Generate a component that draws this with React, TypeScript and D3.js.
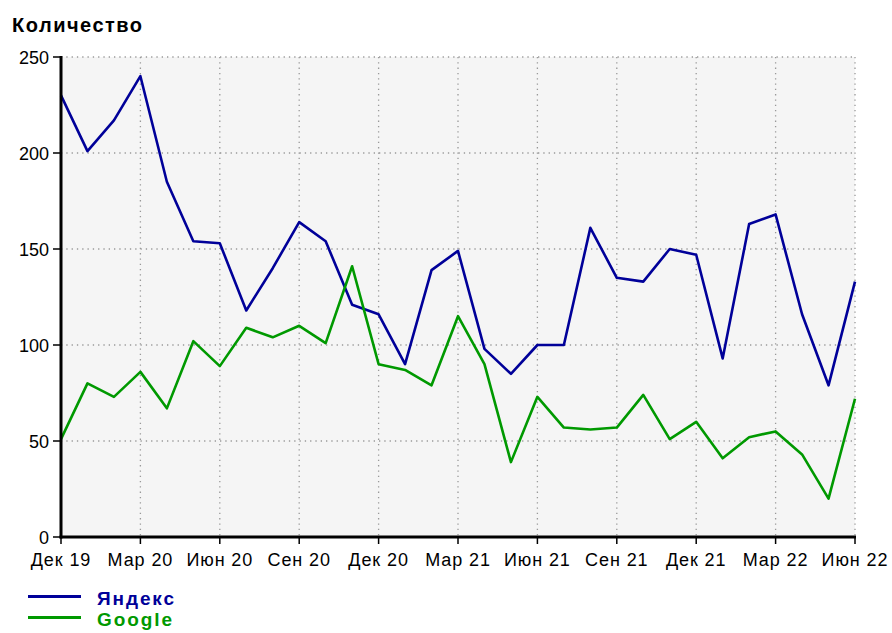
import React from "react";
import * as d3 from "d3";

const months = [
  "Дек 19","Янв 20","Фев 20","Мар 20","Апр 20","Май 20","Июн 20","Июл 20","Авг 20","Сен 20","Окт 20","Ноя 20",
  "Дек 20","Янв 21","Фев 21","Мар 21","Апр 21","Май 21","Июн 21","Июл 21","Авг 21","Сен 21","Окт 21","Ноя 21",
  "Дек 21","Янв 22","Фев 22","Мар 22","Апр 22","Май 22","Июн 22",
];
const yandex = [230,201,217,240,185,154,153,118,140,164,154,121,116,90,139,149,98,85,100,100,161,135,133,150,147,93,163,168,116,79,133];
const google = [51,80,73,86,67,102,89,109,104,110,101,141,90,87,79,115,90,39,73,57,56,57,74,51,60,41,52,55,43,20,72];
const yTicks = [0,50,100,150,200,250];
const xTickIdx = [0,3,6,9,12,15,18,21,24,27,30];
const seriesNames = ["Яндекс","Google"];
const seriesColors = ["#000099","#009900"];

export default function App() {
  const W = 892, H = 633;
  const left = 61, right = 855, top = 57, bottom = 537;
  const x = d3.scaleLinear().domain([0, months.length - 1]).range([left, right]);
  const y = d3.scaleLinear().domain([0, 250]).range([bottom, top]);
  const line = d3.line<number>().x((_, i) => x(i)).y(d => y(d));
  const font = "'Liberation Sans', Arial, sans-serif";
  const series = [yandex, google];
  return (
    <svg width={W} height={H} style={{ position: "absolute", left: 0, top: 0, background: "#fff" }}>
      <rect x={left} y={top} width={right - left} height={bottom - top} fill="#f5f5f5" />
      {yTicks.map(t => (
        <line key={"gy" + t} x1={left} x2={right} y1={y(t)} y2={y(t)} stroke="#999" strokeWidth={1.3} strokeDasharray="1.3 4" />
      ))}
      {xTickIdx.map(i => (
        <line key={"gx" + i} x1={x(i)} x2={x(i)} y1={top} y2={bottom} stroke="#999" strokeWidth={1.3} strokeDasharray="1.3 4" />
      ))}
      {series.map((s, k) => (
        <path key={k} d={line(s) || ""} fill="none" stroke={seriesColors[k]} strokeWidth={2.6} strokeLinejoin="round" />
      ))}
      <line x1={left} x2={left} y1={top - 1} y2={bottom + 1.5} stroke="#000" strokeWidth={3} />
      <line x1={left - 1.5} x2={right + 1} y1={bottom} y2={bottom} stroke="#000" strokeWidth={3} />
      {yTicks.map(t => (
        <g key={"ty" + t}>
          <line x1={left - 8} x2={left} y1={y(t)} y2={y(t)} stroke="#000" strokeWidth={1.5} />
          <text x={left - 12} y={y(t) + 6.5} textAnchor="end" fontSize={18} fontFamily={font} fill="#000">{t}</text>
        </g>
      ))}
      {xTickIdx.map(i => (
        <g key={"tx" + i}>
          <line x1={x(i)} x2={x(i)} y1={bottom} y2={bottom + 7} stroke="#000" strokeWidth={1.5} />
          <text x={x(i)} y={566} textAnchor="middle" fontSize={18} fontFamily={font} letterSpacing={0.9} fill="#000">{months[i]}</text>
        </g>
      ))}
      <text x={12} y={32} fontSize={20} fontWeight="bold" fontFamily={font} letterSpacing={1.5} fill="#000">Количество</text>
      {seriesNames.map((n, k) => (
        <g key={n}>
          <line x1={28} x2={81} y1={596.5 + k * 21} y2={596.5 + k * 21} stroke={seriesColors[k]} strokeWidth={2.8} />
          <text x={97} y={605 + k * 21} fontSize={19} fontWeight="bold" fontFamily={font} letterSpacing={1.9} fill={seriesColors[k]}>{n}</text>
        </g>
      ))}
    </svg>
  );
}
